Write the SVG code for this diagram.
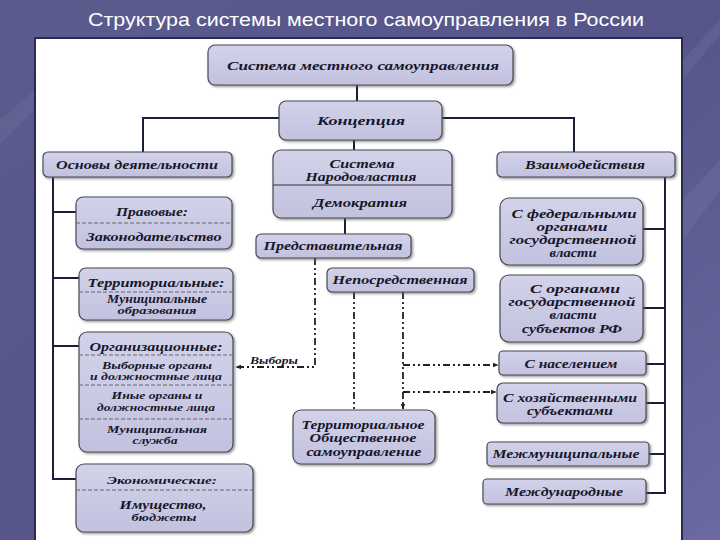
<svg xmlns="http://www.w3.org/2000/svg" width="720" height="540" viewBox="0 0 720 540">
<defs>
<linearGradient id="bg" x1="0" y1="0" x2="1" y2="1">
<stop offset="0" stop-color="#5b5b8e"/>
<stop offset="0.5" stop-color="#55558a"/>
<stop offset="1" stop-color="#6a6aa0"/>
</linearGradient>
<linearGradient id="box" x1="0" y1="0" x2="0" y2="1">
<stop offset="0" stop-color="#d2d2ea"/>
<stop offset="1" stop-color="#c2c2df"/>
</linearGradient>
<filter id="sh" x="-10%" y="-10%" width="130%" height="140%">
<feDropShadow dx="1.5" dy="1.5" stdDeviation="1" flood-color="#555" flood-opacity="0.6"/>
</filter>
<marker id="ah" viewBox="0 0 10 10" refX="9" refY="5" markerWidth="6" markerHeight="6" orient="auto" markerUnits="userSpaceOnUse">
<path d="M0,1 L10,5 L0,9 z" fill="#222"/>
</marker>
</defs>
<style>
.b{fill:url(#box);stroke:#4a4a55;stroke-width:1.2;filter:url(#sh)}
.t{font-family:"Liberation Serif",serif;font-style:italic;font-weight:bold;font-size:12.5px;fill:#17172a;text-anchor:middle}
.s{font-size:10.5px}
.m{font-size:11.5px}
.dv{stroke:#666;stroke-width:1;stroke-dasharray:4 2}
.sl{stroke:#1c1c3c;stroke-width:2;fill:none}
.dd{stroke:#222;stroke-width:1.8;fill:none;stroke-dasharray:7 3 2 3 2 3}
</style>
<rect x="0" y="0" width="720" height="540" fill="url(#bg)"/>
<path d="M683,60 L720,20 L720,34 L683,80z" fill="#ffffff" opacity="0.06"/>
<path d="M683,200 L720,160 L720,190 L683,240z" fill="#ffffff" opacity="0.05"/>
<path d="M0,120 L35,90 L35,110 L0,145z" fill="#ffffff" opacity="0.05"/>
<text x="366" y="26" font-family="Liberation Sans, Arial, sans-serif" font-size="18" fill="#ffffff" text-anchor="middle" textLength="556" lengthAdjust="spacingAndGlyphs">Структура системы местного самоуправления в России</text>
<rect x="35" y="38" width="647" height="504" fill="#ffffff" stroke="#2a2a50" stroke-width="2"/>

<g id="connectors">
<path class="sl" d="M357,85 V101"/>
<path class="sl" d="M354,140 V150"/>
<path class="sl" d="M279,118 H143 V152"/>
<path class="sl" d="M442,118 H574 V152"/>
<path class="sl" d="M345,218 V234"/>
<path class="sl" d="M53,177 V479 H76"/>
<path class="sl" d="M53,212 H76"/>
<path class="sl" d="M53,278 H79"/>
<path class="sl" d="M53,346 H79"/>
<path class="sl" d="M665,177 V493 H646"/>
<path class="sl" d="M643,229 H665"/>
<path class="sl" d="M643,308 H665"/>
<path class="sl" d="M646,364 H665"/>
<path class="sl" d="M646,403 H665"/>
<path class="sl" d="M649,454 H665"/>
<path class="dd" d="M315,258 V367 H236" marker-end="url(#ah)"/>
<path class="dd" d="M354,292 V409"/>
<path class="dd" d="M403,292 V409" marker-end="url(#ah)"/>
<path class="dd" d="M403,365 H498" marker-end="url(#ah)"/>
<path class="dd" d="M403,392 H496" marker-end="url(#ah)"/>
<text class="t s" x="274" y="364" textLength="48" lengthAdjust="spacingAndGlyphs">Выборы</text>
</g>

<g id="n1"><rect class="b" x="208" y="45" width="305" height="40" rx="7"/>
<text class="t" x="363" y="70" font-size="13.5" textLength="272" lengthAdjust="spacingAndGlyphs">Система местного самоуправления</text></g>
<g id="n2"><rect class="b" x="279" y="101" width="163" height="39" rx="7"/>
<text class="t" x="361" y="125" font-size="13.5" textLength="88" lengthAdjust="spacingAndGlyphs">Концепция</text></g>
<g id="n3"><rect class="b" x="43" y="152" width="189" height="25" rx="5"/>
<text class="t" x="137" y="169" textLength="162" lengthAdjust="spacingAndGlyphs">Основы деятельности</text></g>
<g id="n4"><rect class="b" x="273" y="150" width="179" height="68" rx="8"/>
<line x1="273" y1="185" x2="452" y2="185" stroke="#333" stroke-width="1.2"/>
<text class="t m" x="362" y="168" textLength="65" lengthAdjust="spacingAndGlyphs">Система</text>
<text class="t m" x="361" y="181" textLength="111" lengthAdjust="spacingAndGlyphs">Народовластия</text>
<text class="t" x="360" y="207" textLength="94" lengthAdjust="spacingAndGlyphs">Демократия</text></g>
<g id="n5"><rect class="b" x="497" y="152" width="178" height="25" rx="5"/>
<text class="t" x="585" y="169" textLength="120" lengthAdjust="spacingAndGlyphs">Взаимодействия</text></g>
<g id="n6"><rect class="b" x="76" y="197" width="156" height="52" rx="7"/>
<line class="dv" x1="76" y1="223" x2="232" y2="223"/>
<text class="t" x="152" y="216" textLength="72" lengthAdjust="spacingAndGlyphs">Правовые:</text>
<text class="t" x="154" y="241" textLength="135" lengthAdjust="spacingAndGlyphs">Законодательство</text></g>
<g id="n7"><rect class="b" x="256" y="234" width="155" height="24" rx="5"/>
<text class="t" x="333" y="250" textLength="139" lengthAdjust="spacingAndGlyphs">Представительная</text></g>
<g id="n8"><rect class="b" x="79" y="268" width="154" height="52" rx="7"/>
<line class="dv" x1="79" y1="292" x2="233" y2="292"/>
<text class="t" x="156" y="287" textLength="137" lengthAdjust="spacingAndGlyphs">Территориальные:</text>
<text class="t" x="157" y="303" textLength="100" lengthAdjust="spacingAndGlyphs">Муниципальные</text>
<text class="t s" x="157" y="314" textLength="79" lengthAdjust="spacingAndGlyphs">образования</text></g>
<g id="n9"><rect class="b" x="327" y="268" width="147" height="24" rx="5"/>
<text class="t" x="400" y="284" textLength="135" lengthAdjust="spacingAndGlyphs">Непосредственная</text></g>
<g id="n10"><rect class="b" x="79" y="332" width="154" height="120" rx="8"/>
<line class="dv" x1="79" y1="355" x2="233" y2="355"/>
<line class="dv" x1="79" y1="385" x2="233" y2="385"/>
<line class="dv" x1="79" y1="419" x2="233" y2="419"/>
<text class="t" x="156" y="351" textLength="133" lengthAdjust="spacingAndGlyphs">Организационные:</text>
<text class="t s" x="157" y="369" textLength="110" lengthAdjust="spacingAndGlyphs">Выборные органы</text>
<text class="t s" x="156" y="380" textLength="132" lengthAdjust="spacingAndGlyphs">и должностные лица</text>
<text class="t s" x="157" y="399" textLength="91" lengthAdjust="spacingAndGlyphs">Иные органы и</text>
<text class="t s" x="156" y="411" textLength="118" lengthAdjust="spacingAndGlyphs">должностные лица</text>
<text class="t s" x="157" y="433" textLength="100" lengthAdjust="spacingAndGlyphs">Муниципальная</text>
<text class="t s" x="155" y="444" textLength="45" lengthAdjust="spacingAndGlyphs">служба</text></g>
<g id="n11"><rect class="b" x="76" y="464" width="177" height="68" rx="8"/>
<line class="dv" x1="76" y1="490" x2="253" y2="490"/>
<text class="t s" x="162" y="484" textLength="110" lengthAdjust="spacingAndGlyphs">Экономические:</text>
<text class="t" x="163" y="509" textLength="87" lengthAdjust="spacingAndGlyphs">Имущество,</text>
<text class="t s" x="164" y="521" textLength="65" lengthAdjust="spacingAndGlyphs">бюджеты</text></g>
<g id="n12"><rect class="b" x="293" y="410" width="142" height="54" rx="8"/>
<text class="t" x="363" y="429" textLength="123" lengthAdjust="spacingAndGlyphs">Территориальное</text>
<text class="t" x="363" y="442" textLength="107" lengthAdjust="spacingAndGlyphs">Общественное</text>
<text class="t" x="364" y="456" textLength="115" lengthAdjust="spacingAndGlyphs">самоуправление</text></g>
<g id="n13"><rect class="b" x="500" y="198" width="143" height="67" rx="9"/>
<text class="t m" x="574" y="218" textLength="125" lengthAdjust="spacingAndGlyphs">С федеральными</text>
<text class="t m" x="572" y="231" textLength="71" lengthAdjust="spacingAndGlyphs">органами</text>
<text class="t m" x="573" y="244" textLength="127" lengthAdjust="spacingAndGlyphs">государственной</text>
<text class="t m" x="573" y="257" textLength="47" lengthAdjust="spacingAndGlyphs">власти</text></g>
<g id="n14"><rect class="b" x="500" y="275" width="143" height="67" rx="9"/>
<text class="t m" x="575" y="293" textLength="90" lengthAdjust="spacingAndGlyphs">С органами</text>
<text class="t m" x="572" y="306" textLength="127" lengthAdjust="spacingAndGlyphs">государственной</text>
<text class="t m" x="573" y="319" textLength="47" lengthAdjust="spacingAndGlyphs">власти</text>
<text class="t m" x="572" y="333" textLength="100" lengthAdjust="spacingAndGlyphs">субъектов РФ</text></g>
<g id="n15"><rect class="b" x="499" y="351" width="147" height="24" rx="4"/>
<text class="t" x="571" y="368" textLength="93" lengthAdjust="spacingAndGlyphs">С населением</text></g>
<g id="n16"><rect class="b" x="497" y="383" width="149" height="40" rx="6"/>
<text class="t" x="570" y="402" textLength="134" lengthAdjust="spacingAndGlyphs">С хозяйственными</text>
<text class="t" x="570" y="415" textLength="86" lengthAdjust="spacingAndGlyphs">субъектами</text></g>
<g id="n17"><rect class="b" x="487" y="442" width="162" height="24" rx="4"/>
<text class="t" x="566" y="458" textLength="147" lengthAdjust="spacingAndGlyphs">Межмуниципальные</text></g>
<g id="n18"><rect class="b" x="483" y="479" width="163" height="25" rx="4"/>
<text class="t" x="564" y="496" textLength="118" lengthAdjust="spacingAndGlyphs">Международные</text></g>
</svg>
